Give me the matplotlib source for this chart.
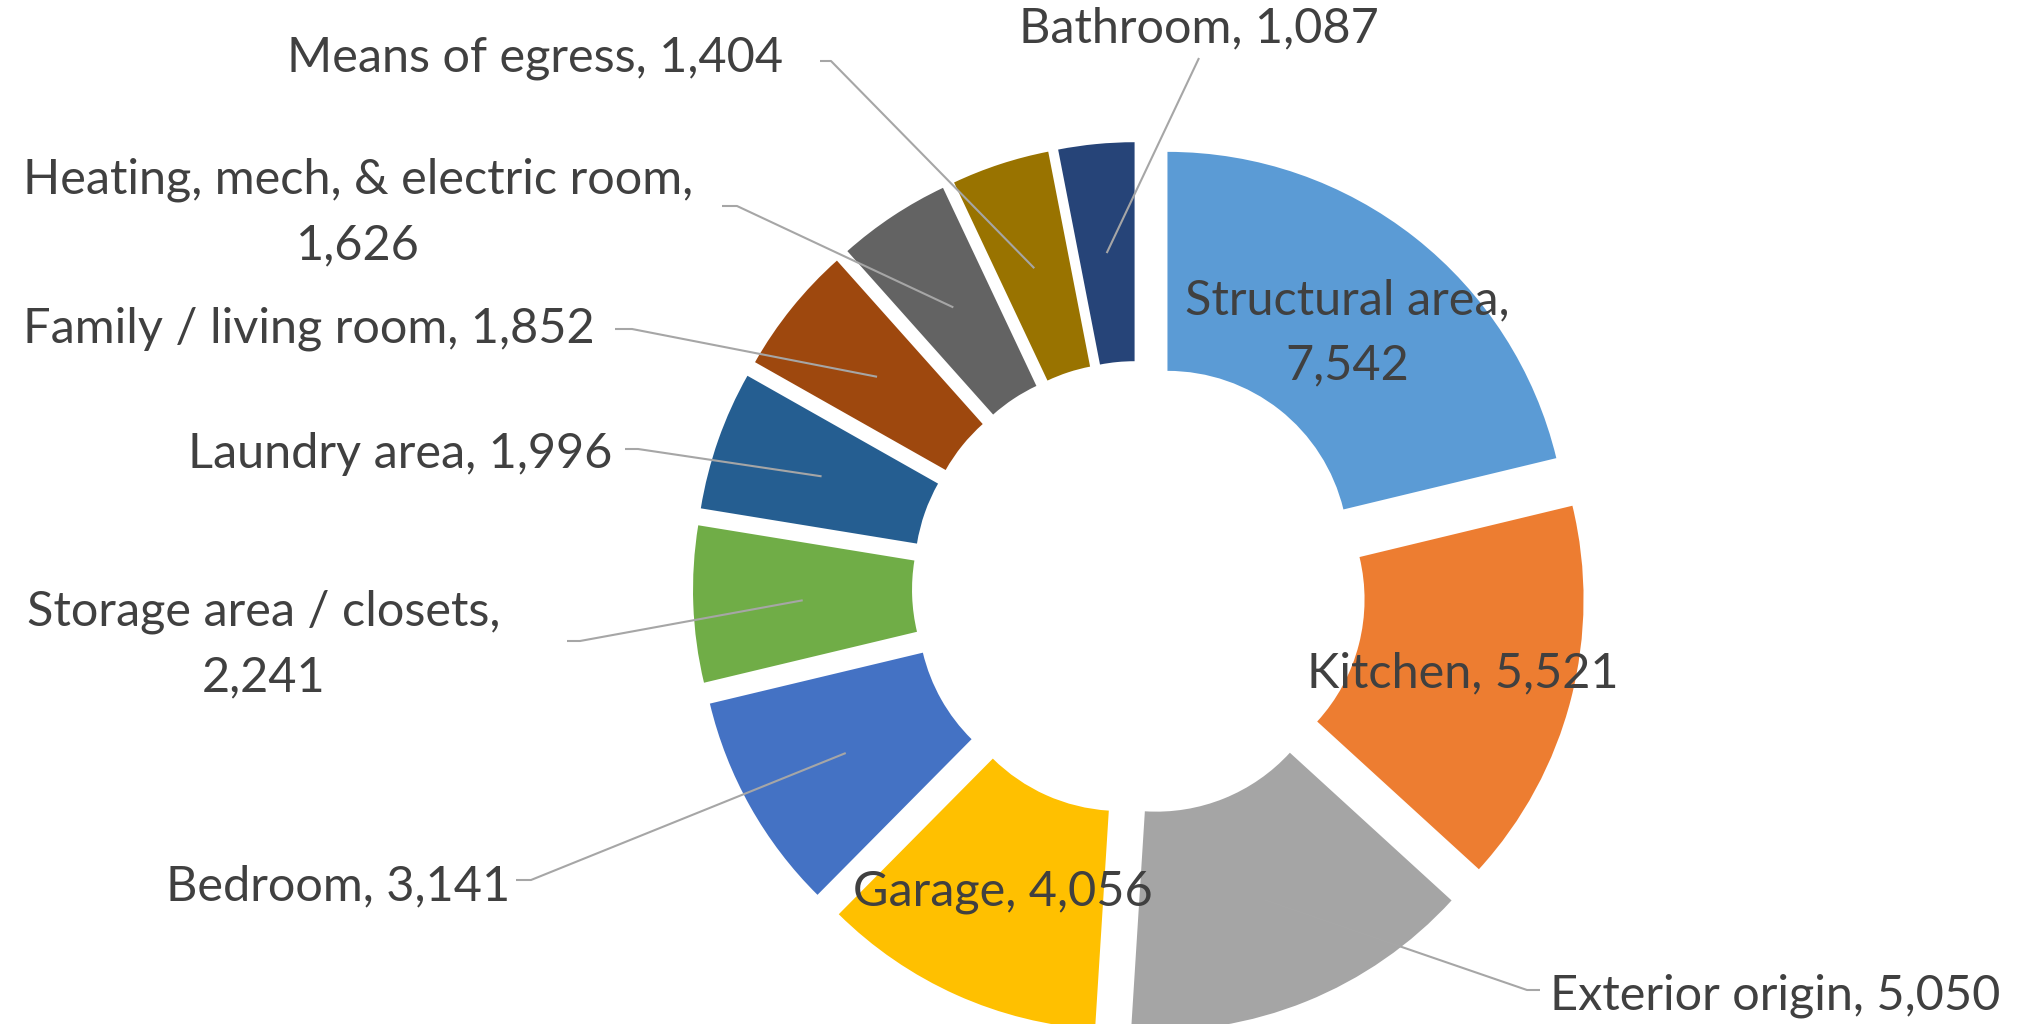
"""Exploded donut: fire origin areas, counts per area."""
import matplotlib

matplotlib.use("Agg")
import matplotlib.pyplot as plt
import numpy as np

W, H = 2021, 1024

areas = ["Structural area", "Kitchen", "Exterior origin", "Garage", "Bedroom",
         "Storage area / closets", "Laundry area", "Family / living room",
         "Heating, mech, & electric room", "Means of egress", "Bathroom"]
counts = [7542, 5521, 5050, 4056, 3141, 2241, 1996, 1852, 1626, 1404, 1087]
colors = ["#5B9BD5", "#ED7D31", "#A5A5A5", "#FFC000", "#4472C4", "#70AD47",
          "#255E91", "#9E480E", "#636363", "#997300", "#264478"]

# layout (pixel coords, y down)
CX, CY = 1139, 588
R_OUT, R_IN = 400, 181
EXPLODE = 46          # pie() takes explode in data units, not radius fraction
TEXT_C = "#404040"
LINE_C = "#A6A6A6"
FS = 35

# label centre, leader start, elbow end (None = label sits on the slice)
label_layout = {
    "Structural area": ((1347, 300), None, None),
    "Kitchen": ((1463, 673), None, None),
    "Exterior origin": ((1775, 996), (1540, 990), (1527, 990)),
    "Garage": ((1003, 892), None, None),
    "Bedroom": ((338, 886), (516, 880), (531, 880)),
    "Storage area / closets": ((264, 612), (567, 641), (580, 641)),
    "Laundry area": ((400, 454), (625, 449), (638, 449)),
    "Family / living room": ((309, 329), (615, 329), (632, 329)),
    "Heating, mech, & electric room": ((358, 180), (722, 206), (737, 206)),
    "Means of egress": ((535, 58), (820, 61), (831, 61)),
    "Bathroom": ((1199, 28), (1199, 58), (1199, 58)),
}
two_line = {"Structural area", "Storage area / closets", "Heating, mech, & electric room"}
LINE_GAP = 65


def main() -> None:
    fig = plt.figure(figsize=(W / 100, H / 100), dpi=100)
    ax = fig.add_axes([0, 0, 1, 1])

    # y axis is flipped below, so start at -90 and go counterclockwise -> clockwise from top
    ax.pie(counts, colors=colors, center=(CX, CY), radius=R_OUT,
           startangle=-90, counterclock=True,
           explode=[EXPLODE] * len(counts),
           wedgeprops=dict(width=R_OUT - R_IN, linewidth=0))
    ax.set_xlim(0, W)
    ax.set_ylim(H, 0)
    ax.set_aspect("equal")
    ax.axis("off")

    total = sum(counts)
    start = 0.0
    for name, val in zip(areas, counts):
        span = val / total * 360
        mid = np.radians(start + span / 2)
        start += span
        ux, uy = np.sin(mid), -np.cos(mid)
        sx, sy = CX + EXPLODE * ux, CY + EXPLODE * uy
        rm = (R_OUT + R_IN) / 2
        anchor = (sx + rm * ux, sy + rm * uy)

        (tx, ty), p0, p1 = label_layout[name]
        value = f"{val:,}"
        if name in two_line:
            ax.text(tx, ty, f"{name},", ha="center", va="center", fontsize=FS,
                    color=TEXT_C, family="Lato")
            ax.text(tx, ty + LINE_GAP, value, ha="center", va="center", fontsize=FS,
                    color=TEXT_C, family="Lato")
        else:
            ax.text(tx, ty, f"{name}, {value}", ha="center", va="center", fontsize=FS,
                    color=TEXT_C, family="Lato")
        if p0 is not None:
            ax.plot([p0[0], p1[0], anchor[0]], [p0[1], p1[1], anchor[1]],
                    color=LINE_C, lw=1.5, solid_capstyle="butt")

    fig.savefig("out.png", dpi=100)
    plt.close(fig)


if __name__ == "__main__":
    main()
